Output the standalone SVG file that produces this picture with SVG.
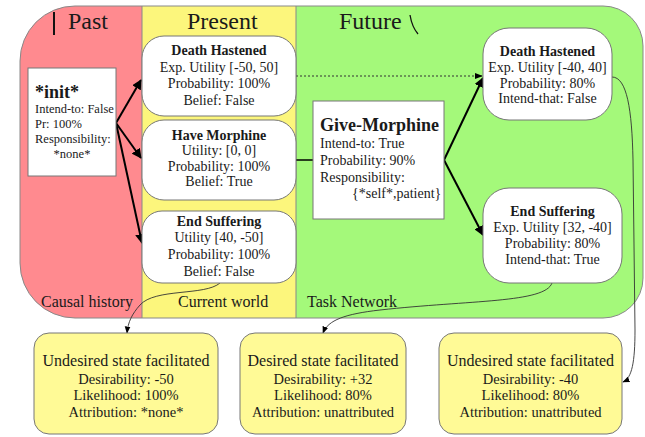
<svg xmlns="http://www.w3.org/2000/svg" width="645" height="437" viewBox="0 0 645 437">
<defs>
<style>
text{font-family:"Liberation Serif","Times New Roman",serif;fill:#1a1a1a}
.hdr{font-size:24px}
.lbl{font-size:16px}
.t{font-size:14px;text-anchor:middle}
.tb{font-size:14px;font-weight:bold;text-anchor:middle}
.node{fill:#fff;stroke:#777;stroke-width:1}
.box{fill:#fff;stroke:#777;stroke-width:1}
.out{fill:#fffa96;stroke:#777;stroke-width:1}
.ot{font-size:16px;text-anchor:middle}
.od{font-size:14.5px;text-anchor:middle}
.thick{fill:none;stroke:#000;stroke-width:2}
.thin{fill:none;stroke:#333;stroke-width:0.9}
</style>
<marker id="ah" viewBox="0 0 10 10" refX="9" refY="5" markerWidth="5" markerHeight="5" orient="auto" markerUnits="strokeWidth"><path d="M0,0 L10,5 L0,10 Z" fill="#000"/></marker>
<marker id="as" viewBox="0 0 10 10" refX="9" refY="5" markerWidth="8" markerHeight="8" orient="auto" markerUnits="strokeWidth"><path d="M0,1 L10,5 L0,9 Z" fill="#000"/></marker>
</defs>
<rect width="645" height="437" fill="#fff"/>
<g id="regions">
<path d="M142,6 L75,6 A55,55 0 0 0 20,61 L20,263 A55,55 0 0 0 75,318 L142,318 Z" fill="#ff8a8f"/>
<rect x="142" y="6" width="154" height="312" fill="#fcf67c"/>
<path d="M296,6 L603,6 A40,40 0 0 1 643,46 L643,278 A40,40 0 0 1 603,318 L296,318 Z" fill="#a4f97a"/>
<line x1="142" y1="6" x2="142" y2="318" stroke="#888" stroke-width="1"/>
<line x1="296" y1="6" x2="296" y2="318" stroke="#888" stroke-width="1"/>
<path d="M75,6 L603,6 A40,40 0 0 1 643,46 L643,278 A40,40 0 0 1 603,318 L75,318 A55,55 0 0 1 20,263 L20,61 A55,55 0 0 1 75,6 Z" fill="none" stroke="#888" stroke-width="1"/>
<line x1="54" y1="12" x2="54" y2="35" stroke="#111" stroke-width="2"/>
<text class="hdr" x="68" y="29">Past</text>
<text class="hdr" x="187" y="29">Present</text>
<text class="hdr" x="339" y="29">Future</text>
<path d="M410,15 Q412,27 418,34" fill="none" stroke="#111" stroke-width="1.3"/>
<text class="lbl" x="41" y="307">Causal history</text>
<text class="lbl" x="178" y="307">Current world</text>
<text class="lbl" x="307" y="307">Task Network</text>
</g>
<g id="connectors">
<path class="thick" d="M116,123 L141,80" marker-end="url(#ah)"/>
<path class="thick" d="M116,123 L141,158" marker-end="url(#ah)"/>
<path class="thick" d="M116,123 L142,243" marker-end="url(#ah)"/>
<path d="M296,160 L313,160" fill="none" stroke="#000" stroke-width="1.5"/>
<path d="M296,76 L482,76" fill="none" stroke="#333" stroke-width="1" stroke-dasharray="2,2" marker-end="url(#as)"/>
<path class="thick" d="M444,160 L483,78" marker-end="url(#ah)"/>
<path class="thick" d="M444,160 L483,235" marker-end="url(#ah)"/>
<path class="thin" d="M220,283 C205,296 155,288 140,305 C132,314 128,322 127,333" marker-end="url(#as)"/>
<path class="thin" d="M552,283 C545,303 470,300 380,310 C345,314 328,320 323,333" marker-end="url(#as)"/>
<path class="thin" d="M612,77 C627,77 632,110 633,160 L635,330 C635,362 632,378 623,382" marker-end="url(#as)"/>
</g>
<g id="init">
<rect class="box" x="28" y="68" width="88" height="108"/>
<text x="35" y="98" style="font-size:18px;font-weight:bold">*init*</text>
<text x="35" y="113" style="font-size:12.5px">Intend-to: False</text>
<text x="35" y="128" style="font-size:12.5px">Pr: 100%</text>
<text x="35" y="143" style="font-size:12.5px">Responsibility:</text>
<text x="72" y="158" style="font-size:12.5px;text-anchor:middle">*none*</text>
</g>
<g id="present-death-hastened">
<rect class="node" x="142" y="36" width="154" height="80" rx="22"/>
<text class="tb" x="219" y="55">Death Hastened</text>
<text class="t" x="219" y="72">Exp. Utility [-50, 50]</text>
<text class="t" x="219" y="88">Probability: 100%</text>
<text class="t" x="219" y="105">Belief: False</text>
</g>
<g id="present-have-morphine">
<rect class="node" x="142" y="120" width="154" height="80" rx="22"/>
<text class="tb" x="219" y="140">Have Morphine</text>
<text class="t" x="219" y="155">Utility: [0, 0]</text>
<text class="t" x="219" y="171">Probability: 100%</text>
<text class="t" x="219" y="186">Belief: True</text>
</g>
<g id="present-end-suffering">
<rect class="node" x="142" y="211" width="154" height="72" rx="20"/>
<text class="tb" x="219" y="226">End Suffering</text>
<text class="t" x="219" y="242">Utility [40, -50]</text>
<text class="t" x="219" y="259">Probability: 100%</text>
<text class="t" x="219" y="276">Belief: False</text>
</g>
<g id="give-morphine">
<rect class="box" x="313" y="101" width="131" height="118"/>
<text x="320" y="131" style="font-size:18px;font-weight:bold">Give-Morphine</text>
<text x="320" y="148" style="font-size:14px">Intend-to: True</text>
<text x="320" y="165" style="font-size:14px">Probability: 90%</text>
<text x="320" y="182" style="font-size:14px">Responsibility:</text>
<text x="352" y="198" style="font-size:14px">{*self*,patient}</text>
</g>
<g id="future-death-hastened">
<rect class="node" x="483" y="28" width="129" height="92" rx="26"/>
<text class="tb" x="547.5" y="56">Death Hastened</text>
<text class="t" x="547.5" y="72">Exp. Utility [-40, 40]</text>
<text class="t" x="547.5" y="88">Probability: 80%</text>
<text class="t" x="547.5" y="103">Intend-that: False</text>
</g>
<g id="future-end-suffering">
<rect class="node" x="483" y="188" width="139" height="95" rx="26"/>
<text class="tb" x="552.5" y="216">End Suffering</text>
<text class="t" x="552.5" y="232">Exp. Utility [32, -40]</text>
<text class="t" x="552.5" y="248">Probability: 80%</text>
<text class="t" x="552.5" y="264">Intend-that: True</text>
</g>
<g id="outcome-1">
<rect class="out" x="34" y="333" width="184" height="101" rx="15"/>
<text class="ot" x="126" y="366">Undesired state facilitated</text>
<text class="od" x="126" y="384">Desirability: -50</text>
<text class="od" x="126" y="400">Likelihood: 100%</text>
<text class="od" x="126" y="417">Attribution: *none*</text>
</g>
<g id="outcome-2">
<rect class="out" x="240" y="333" width="166" height="101" rx="15"/>
<text class="ot" x="323" y="366">Desired state facilitated</text>
<text class="od" x="323" y="384">Desirability: +32</text>
<text class="od" x="323" y="400">Likelihood: 80%</text>
<text class="od" x="323" y="417">Attribution: unattributed</text>
</g>
<g id="outcome-3">
<rect class="out" x="439" y="333" width="183" height="101" rx="15"/>
<text class="ot" x="530.5" y="366">Undesired state facilitated</text>
<text class="od" x="530.5" y="384">Desirability: -40</text>
<text class="od" x="530.5" y="400">Likelihood: 80%</text>
<text class="od" x="530.5" y="417">Attribution: unattributed</text>
</g>
</svg>
